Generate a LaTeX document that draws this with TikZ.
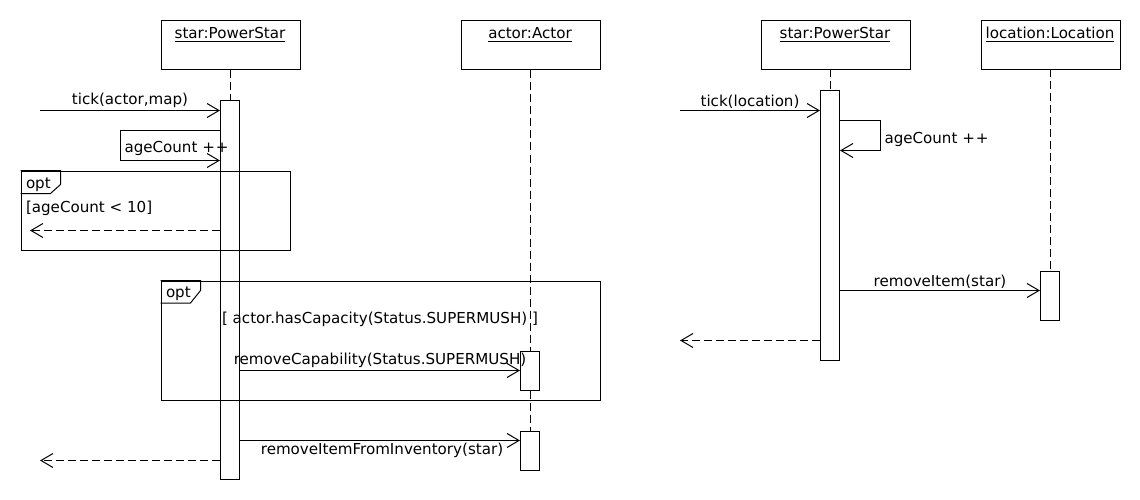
\documentclass[tikz,border=0pt]{standalone}
\usepackage{fontspec}
\setmainfont{DejaVu Sans}
\usetikzlibrary{arrows.meta}
\newcommand\myul[1]{\setbox0\hbox{#1}\rlap{\copy0}\rule[-2.6pt]{\wd0}{0.9pt}}
\begin{document}
\begin{tikzpicture}[x=1pt,y=-1pt, line width=1pt,
 every node/.style={font=\fontsize{15.1}{18}\selectfont},
 hdr/.style={draw, rectangle, inner sep=0pt, anchor=north west, minimum height=49pt},
 act/.style={draw, fill=white, rectangle, inner sep=0pt, minimum width=19pt, anchor=north},
 life/.style={dash pattern=on 8pt off 4pt},
 msg/.style={-{Straight Barb[length=12pt,width=14pt]}},
 ret/.style={msg, dash pattern=on 8pt off 4pt},
 fragbox/.style={draw, rectangle, inner sep=0pt, anchor=north west},
 lbl/.style={inner sep=0pt, anchor=base},
 lblw/.style={inner sep=0pt, anchor=base west},
]
\useasboundingbox (0,0) rectangle (1140,500);
\fill[white] (0,0) rectangle (1140,500);

% ---------------- left diagram ----------------
\node[hdr, minimum width=139pt] (h1) at (160.5,20.5) {};
\node[hdr, minimum width=139pt] (h2) at (460.5,20.5) {};
\node[lbl] (h1t) at (230,39) {\myul{star:PowerStar}};
\node[lbl] (h2t) at (530,39) {\myul{actor:Actor}};

\node[act, minimum height=379pt] (a1) at (230,100) {};
\node[act, minimum height=39pt] (a3) at (530,350.5) {};
\node[act, minimum height=39pt] (a4) at (530,430.5) {};

\draw[life] (h1.south -| a1) -- (a1.north);
\draw[life] (h2.south -| a3) -- (a3.north);
\draw[life] (a3.south) -- (a4.north);
\node[act, minimum height=379pt] at (230,100) {};
\node[act, minimum height=39pt] at (530,350.5) {};
\node[act, minimum height=39pt] at (530,430.5) {};

% opt frame 1
\node[fragbox, minimum width=269pt, minimum height=79pt] (f1) at (20.5,170.5) {};
\draw (f1.north west) -- ++(40,0) -- ++(0,14) -- ++(-10,9) -- ++(-30,0);
\node[lblw] (f1t) at (25.5,188) {opt};
\node[lblw] (f1g) at (25.5,212.5) {[ageCount < 10]};

% opt frame 2
\node[fragbox, minimum width=439pt, minimum height=119pt] (f2) at (160.5,280.5) {};
\draw (f2.north west) -- ++(40,0) -- ++(0,10) -- ++(-10,12.5) -- ++(-30,0);
\node[lblw] (f2t) at (165.5,297.5) {opt};
\node[lbl] (f2g) at (380,323) {[ actor.hasCapacity(Status.SUPERMUSH) ]};

% messages
\coordinate (s1) at (40,110.5);
\draw[msg] (s1) -- node[above, inner sep=2pt] {tick(actor,map)} (s1 -| a1.west);

\coordinate (L1) at (120.5,130.5);
\coordinate (L2) at (120.5,160.5);
\draw[msg] (a1.west |- L1) -- (L1) -- (L2) -- (a1.west |- L2);
\node[lblw] (l1t) at (124,153) {ageCount +\kern1pt+};

\coordinate (r1) at (30,230.5);
\draw[ret] (a1.west |- r1) -- (r1);

\coordinate (y370) at (0,370.5);
\draw[msg] (a1.east |- y370) -- node[above, inner sep=2pt] {removeCapability(Status.SUPERMUSH)} (a3.west |- y370);

\coordinate (y440) at (0,440.5);
\draw[msg] (a1.east |- y440) -- node[below, inner sep=2.5pt, xshift=2pt] {removeItemFromInventory(star)} (a4.west |- y440);

\coordinate (r2) at (40,460.5);
\draw[ret] (a1.west |- r2) -- (r2);

% ---------------- right diagram ----------------
\node[hdr, minimum width=149pt] (h3) at (760.5,20.5) {};
\node[hdr, minimum width=139pt] (h4) at (980.5,20.5) {};
\node[lbl] (h3t) at (835,39) {\myul{star:PowerStar}};
\node[lbl] (h4t) at (1050,39) {\myul{location:Location}};

\draw[life] (830,69) -- (830,90);
\draw[life] (1050,69) -- (1050,270);
\node[act, minimum height=269pt] (a5) at (830,90.5) {};
\node[act, minimum height=49pt] (a6) at (1050,270.5) {};

\coordinate (s2) at (680,110.5);
\draw[msg] (s2) -- node[above, inner sep=2pt] {tick(location)} (s2 -| a5.west);

\coordinate (R1) at (880.5,120.5);
\coordinate (R2) at (880.5,150.5);
\draw[msg] (a5.east |- R1) -- (R1) -- (R2) -- (a5.east |- R2);
\node[lblw] (r1t) at (884,143) {ageCount +\kern1pt+};

\coordinate (y290) at (0,290.5);
\draw[msg] (a5.east |- y290) -- node[above, inner sep=2pt] {removeItem(star)} (a6.west |- y290);

\coordinate (r3) at (680,340.5);
\draw[ret] (a5.west |- r3) -- (r3);
\end{tikzpicture}
\end{document}
